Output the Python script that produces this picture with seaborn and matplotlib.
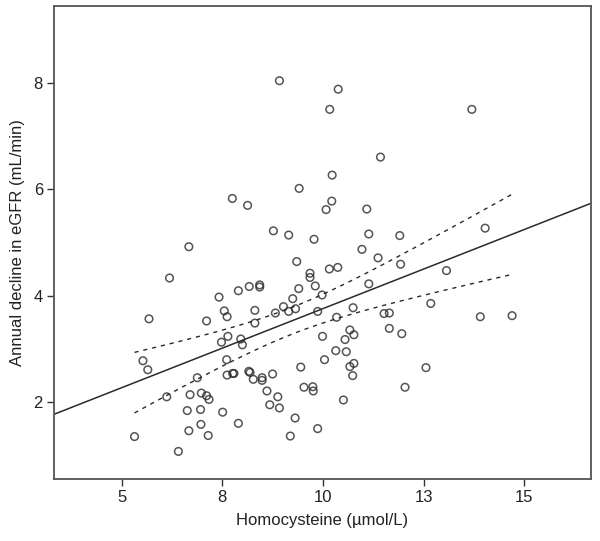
import numpy as np
import pandas as pd
import matplotlib
matplotlib.use("Agg")
import matplotlib.pyplot as plt
import seaborn as sns

# Data
homocysteine = [
    8.92, 7.75, 8.13, 8.77, 9.15, 6.67, 9.41, 9.35, 10.38, 10.17, 13.70, 11.43,
    10.23, 10.22, 10.08, 11.09, 9.78, 11.14, 11.91, 14.03, 10.97, 11.37, 11.93,
    10.16, 10.37, 13.07,
    6.19, 5.68, 5.53, 5.65, 6.12, 5.32, 6.41, 7.42, 7.90, 8.17, 8.43, 8.43,
    7.11, 7.55, 7.62, 8.31, 8.31, 8.82, 9.02, 9.15, 9.25, 9.32, 9.40,
    7.48, 7.64, 7.96, 8.00, 7.61, 6.88, 7.62, 7.76, 7.79, 8.16, 8.19, 8.27,
    8.49, 8.49, 8.75, 6.70, 6.98, 7.11, 7.17, 6.63, 6.96, 7.51, 6.67, 6.97,
    7.15, 7.90, 8.61, 8.88, 8.68, 8.92, 9.31, 9.19, 9.45, 9.68, 9.68,
    9.81, 9.98, 11.14, 9.87, 10.34, 10.75, 12.68, 11.52, 11.65, 13.91, 14.70,
    10.67, 10.77, 9.99, 10.55, 11.65, 11.96, 10.32, 10.58, 10.04, 10.67, 10.77,
    10.74, 9.53, 9.75, 9.76, 10.51, 12.04, 12.56, 9.87,
]
egfr_decline = [
    8.05, 5.83, 5.70, 5.22, 5.14, 4.92, 6.02, 4.64, 7.89, 7.51, 7.51, 6.61,
    6.27, 5.78, 5.62, 5.63, 5.06, 5.16, 5.13, 5.27, 4.87, 4.71, 4.59,
    4.50, 4.53, 4.47,
    4.33, 3.56, 2.77, 2.60, 2.09, 1.34, 1.06, 3.97, 4.09, 4.17, 4.20, 4.16,
    3.52, 3.71, 3.60, 3.72, 3.48, 3.67, 3.79, 3.70, 3.94, 3.75, 4.13,
    3.12, 3.23, 3.18, 3.07, 2.79, 2.45, 2.50, 2.53, 2.53, 2.57, 2.55, 2.42,
    2.45, 2.40, 2.52, 2.13, 2.16, 2.11, 2.04, 1.83, 1.85, 1.80, 1.45, 1.57,
    1.36, 1.59, 2.20, 2.09, 1.94, 1.88, 1.69, 1.35, 2.65, 4.42, 4.34,
    4.18, 4.01, 4.22, 3.70, 3.59, 3.77, 3.85, 3.66, 3.67, 3.60, 3.62,
    3.35, 3.26, 3.23, 3.17, 3.38, 3.28, 2.96, 2.94, 2.79, 2.66, 2.72,
    2.49, 2.27, 2.28, 2.20, 2.03, 2.27, 2.64, 1.49,
]
x_ticks = [5, 7.5, 10, 12.5, 15]
x_tick_labels = ["5", "8", "10", "13", "15"]
y_ticks = [2, 4, 6, 8]
y_tick_labels = ["2", "4", "6", "8"]

df = pd.DataFrame({"hcy": homocysteine, "egfr": egfr_decline})

sns.set_style("white")
plt.rcParams["font.family"] = ["Liberation Sans", "DejaVu Sans"]

fig = plt.figure(figsize=(6.0, 5.41), dpi=100)
ax = fig.add_axes([0.09, 0.1146, 0.895, 0.8744])
ax.set_xlim(3.32, 16.66)
ax.set_ylim(0.54, 9.46)

ink = "#2a2a2a"
sns.regplot(data=df, x="hcy", y="egfr", ax=ax, ci=None, truncate=False,
            scatter_kws=dict(s=30, facecolors="none", edgecolors=ink, linewidths=1.1),
            line_kws=dict(color=ink, lw=1.1))

# 95% confidence interval of the mean fit, dashed
x = df["hcy"].to_numpy()
y = df["egfr"].to_numpy()
n = len(x)
b, a = np.polyfit(x, y, 1)
resid = y - (a + b * x)
s = np.sqrt(np.sum(resid ** 2) / (n - 2))
xg = np.linspace(x.min(), x.max(), 100)
se = s * np.sqrt(1 / n + (xg - x.mean()) ** 2 / np.sum((x - x.mean()) ** 2))
t = 1.981
band = pd.DataFrame({"x": xg, "lo": a + b * xg - t * se, "hi": a + b * xg + t * se})
sns.lineplot(data=band, x="x", y="lo", ax=ax, color=ink, lw=1.0, dashes=False,
             linestyle=(0, (3, 3.5)))
sns.lineplot(data=band, x="x", y="hi", ax=ax, color=ink, lw=1.0, dashes=False,
             linestyle=(0, (3, 3.5)))

ax.set_xticks(x_ticks)
ax.set_xticklabels(x_tick_labels)
ax.set_yticks(y_ticks)
ax.set_yticklabels(y_tick_labels)
ax.tick_params(axis="both", which="both", direction="out", length=5, width=1.0,
               color="#333333", labelsize=12, labelcolor="#222222", pad=3)
ax.tick_params(bottom=True, left=True, top=False, right=False)
for sp in ax.spines.values():
    sp.set_color("#555555")
    sp.set_linewidth(1.3)

ax.set_xlabel("Homocysteine (µmol/L)", fontsize=12, color="#222222", labelpad=6)
ax.set_ylabel("Annual decline in eGFR (mL/min)", fontsize=12, color="#222222", labelpad=6)

fig.savefig("out.png", dpi=100)
